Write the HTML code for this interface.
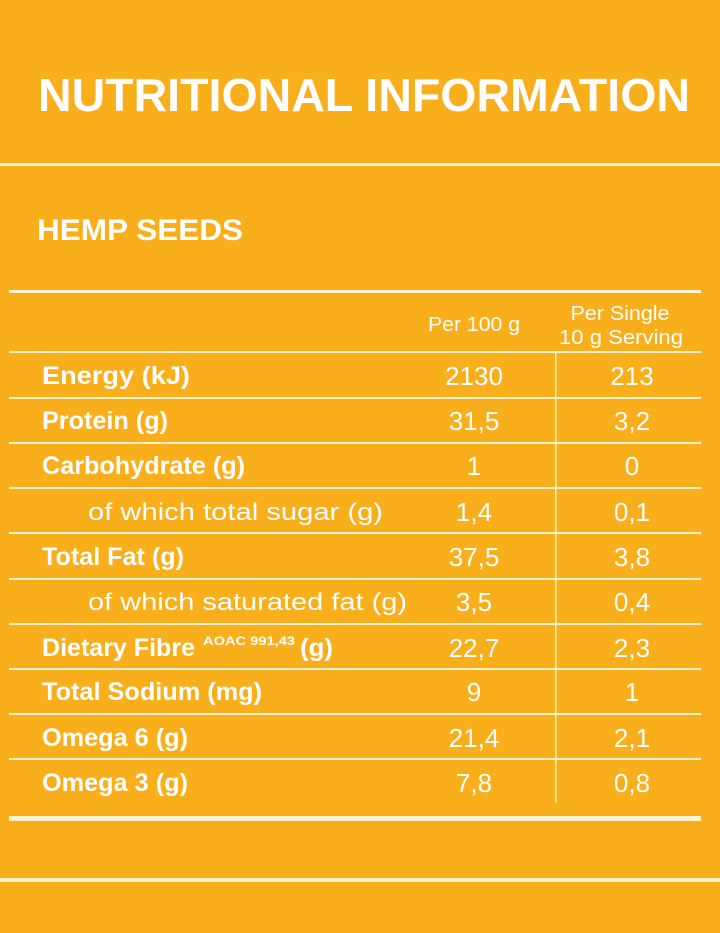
<!DOCTYPE html>
<html><head><meta charset="utf-8"><style>
html,body{margin:0;padding:0;background:#F9AE1B;}
svg{display:block;}
text{fill:#fff;font-family:"Liberation Sans",sans-serif;}
.l{font-weight:bold;font-size:25px;}
.s{font-size:24px;}
.v{font-size:26px;text-anchor:middle;}
.h{font-size:20px;text-anchor:middle;}
</style></head><body>
<svg width="720" height="933" viewBox="0 0 720 933" xmlns="http://www.w3.org/2000/svg">
<rect width="720" height="933" fill="#F9AE1B"/>
<text x="38" y="111" font-size="46" font-weight="bold" textLength="652" lengthAdjust="spacingAndGlyphs">NUTRITIONAL INFORMATION</text>
<rect x="0" y="163" width="720" height="3" fill="#FFF3D0"/>
<text x="37" y="240" font-size="30" font-weight="bold" textLength="206" lengthAdjust="spacingAndGlyphs">HEMP SEEDS</text>
<rect x="9" y="290" width="692" height="3" fill="#FFF3D0"/>
<text class="h" x="474" y="331" textLength="92" lengthAdjust="spacingAndGlyphs">Per 100 g</text>
<text class="h" x="620" y="320" textLength="99" lengthAdjust="spacingAndGlyphs">Per Single</text>
<text class="h" x="621" y="344" textLength="124" lengthAdjust="spacingAndGlyphs">10 g Serving</text>
<g fill="#FFF3D0">
<rect x="9" y="351" width="692" height="2"/>
<rect x="9" y="397" width="692" height="2"/>
<rect x="9" y="442" width="692" height="2"/>
<rect x="9" y="487" width="692" height="2"/>
<rect x="9" y="532" width="692" height="2"/>
<rect x="9" y="578" width="692" height="2"/>
<rect x="9" y="623" width="692" height="2"/>
<rect x="9" y="668" width="692" height="2"/>
<rect x="9" y="713" width="692" height="2"/>
<rect x="9" y="758" width="692" height="2"/>
<rect x="555" y="352" width="1.5" height="451"/>
<rect x="9" y="816" width="692" height="5"/>
<rect x="0" y="878" width="720" height="4"/>
</g>
<text class="l" x="42" y="384" textLength="148" lengthAdjust="spacingAndGlyphs">Energy (kJ)</text>
<text class="l" x="42" y="429" textLength="126" lengthAdjust="spacingAndGlyphs">Protein (g)</text>
<text class="l" x="42" y="474" textLength="203" lengthAdjust="spacingAndGlyphs">Carbohydrate (g)</text>
<text class="s" x="88" y="520" textLength="295" lengthAdjust="spacingAndGlyphs">of which total sugar (g)</text>
<text class="l" x="42" y="565" textLength="142" lengthAdjust="spacingAndGlyphs">Total Fat (g)</text>
<text class="s" x="88" y="610" textLength="319" lengthAdjust="spacingAndGlyphs">of which saturated fat (g)</text>
<text class="l" x="42" y="656" textLength="153" lengthAdjust="spacingAndGlyphs">Dietary Fibre</text>
<text x="203" y="645" font-size="12" font-weight="bold" textLength="92" lengthAdjust="spacingAndGlyphs">AOAC 991,43</text>
<text class="l" x="300" y="656" textLength="33" lengthAdjust="spacingAndGlyphs">(g)</text>
<text class="l" x="42" y="700" textLength="220" lengthAdjust="spacingAndGlyphs">Total Sodium (mg)</text>
<text class="l" x="42" y="746" textLength="146" lengthAdjust="spacingAndGlyphs">Omega 6 (g)</text>
<text class="l" x="42" y="791" textLength="146" lengthAdjust="spacingAndGlyphs">Omega 3 (g)</text>
<g>
<text class="v" x="474" y="385">2130</text><text class="v" x="632" y="385">213</text>
<text class="v" x="474" y="430">31,5</text><text class="v" x="632" y="430">3,2</text>
<text class="v" x="474" y="475">1</text><text class="v" x="632" y="475">0</text>
<text class="v" x="474" y="521">1,4</text><text class="v" x="632" y="521">0,1</text>
<text class="v" x="474" y="566">37,5</text><text class="v" x="632" y="566">3,8</text>
<text class="v" x="474" y="611">3,5</text><text class="v" x="632" y="611">0,4</text>
<text class="v" x="474" y="657">22,7</text><text class="v" x="632" y="657">2,3</text>
<text class="v" x="474" y="701">9</text><text class="v" x="632" y="701">1</text>
<text class="v" x="474" y="747">21,4</text><text class="v" x="632" y="747">2,1</text>
<text class="v" x="474" y="792">7,8</text><text class="v" x="632" y="792">0,8</text>
</g>
</svg>
</body></html>
